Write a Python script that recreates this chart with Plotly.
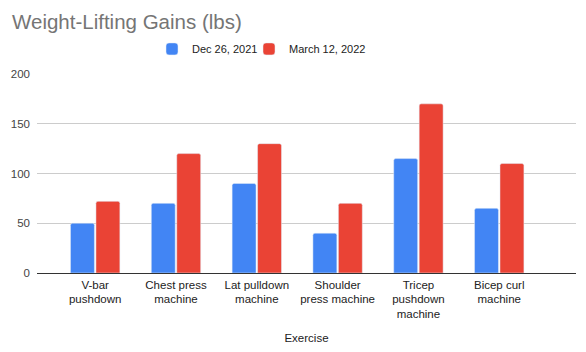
import plotly.graph_objects as go

categories = ["V-bar<br>pushdown", "Chest press<br>machine", "Lat pulldown<br>machine",
              "Shoulder<br>press machine", "Tricep<br>pushdown<br>machine", "Bicep curl<br>machine"]
dec_2021 = [50, 70, 90, 40, 115, 65]
mar_2022 = [72, 120, 130, 70, 170, 110]
series_names = ["Dec 26, 2021", "March 12, 2022"]
y_ticks = [0, 50, 100, 150, 200]

FONT = "Liberation Sans, Arial, sans-serif"

fig = go.Figure()
fig.add_trace(go.Bar(x=list(range(len(categories))), y=dec_2021, name=series_names[0],
                     marker=dict(color="#4285F4", cornerradius=2), legend="legend"))
fig.add_trace(go.Bar(x=list(range(len(categories))), y=mar_2022, name=series_names[1],
                     marker=dict(color="#EA4335", cornerradius=2), legend="legend2"))

legend_common = dict(orientation="h", xanchor="left", y=1.126, yanchor="middle",
                     font=dict(size=11, color="#222"), bgcolor="rgba(0,0,0,0)")

fig.update_layout(
    width=586, height=352,
    margin=dict(l=37, r=10, t=74, b=79),
    paper_bgcolor="white", plot_bgcolor="white",
    font=dict(family=FONT, size=11.5, color="#222"),
    barmode="group", bargap=0.37, bargroupgap=0.06,
    title=dict(text="Weight-Lifting Gains (lbs)", x=12/586, xref="container", xanchor="left",
               y=1-22/352, yref="container", yanchor="middle",
               font=dict(family=FONT, size=20.5, color="#757575")),
    legend=dict(x=(152-37)/539, **legend_common),
    legend2=dict(x=(249-37)/539, **legend_common),
    showlegend=True,
)
fig.update_xaxes(tickmode="array", tickvals=list(range(len(categories))), ticktext=categories,
                 range=[-0.72, 5.95], showgrid=False, zeroline=False, showline=False,
                 automargin=False,
                 ticks="", tickfont=dict(size=11.5, color="#222"), ticklabelstandoff=3,
                 title=dict(text="Exercise", font=dict(size=11.5, color="#222"), standoff=14))
fig.update_yaxes(range=[0, 200], tickvals=y_ticks, showgrid=True, gridcolor="#cccccc",
                 zeroline=True, zerolinecolor="#333333", zerolinewidth=1, automargin=False,
                 tickfont=dict(size=11.5, color="#444"), ticks="", ticklabelstandoff=6)

fig.write_html("out.html")
